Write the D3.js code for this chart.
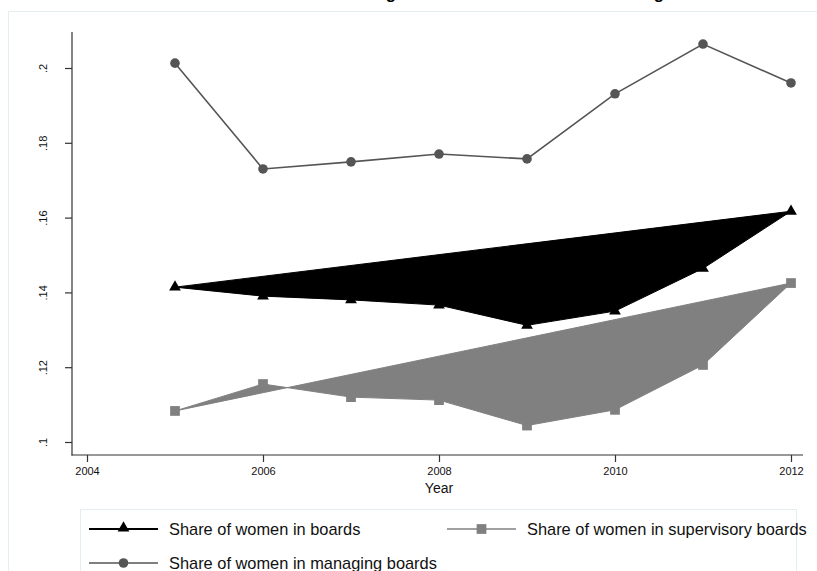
<!DOCTYPE html>
<html><head><meta charset="utf-8">
<script src="https://cdn.jsdelivr.net/npm/d3@7/dist/d3.min.js"></script>
<style>body{margin:0;background:#fff}svg{display:block;font-family:"Liberation Sans",Arial,sans-serif}</style>
</head><body><svg id="c" width="817" height="571"></svg>
<script>
const years = [2005, 2006, 2007, 2008, 2009, 2010, 2011, 2012];
const boards = [0.1414, 0.1390, 0.1380, 0.1366, 0.1312, 0.1350, 0.1464, 0.1617];
const supervisory = [0.1083, 0.1155, 0.1120, 0.1112, 0.1044, 0.1086, 0.1206, 0.1425];
const managing = [0.2013, 0.1730, 0.1749, 0.1770, 0.1757, 0.1931, 0.2064, 0.1960];
const xTicks = [2004, 2006, 2008, 2010, 2012];
const yTicks = [0.1, 0.12, 0.14, 0.16, 0.18, 0.2];
const yTickLabels = [".1", ".12", ".14", ".16", ".18", ".2"];
const seriesNames = ["Share of women in boards", "Share of women in supervisory boards", "Share of women in managing boards"];
const titleText = "Share of women in management and board seats in the largest firms";

const svg = d3.select("#c");
const x = d3.scaleLinear().domain([2004, 2012]).range([87, 791]);
const y = d3.scaleLinear().domain([0.1, 0.2]).range([442, 68]);

// faint outer frame
svg.append("rect").attr("x", 8.5).attr("y", 11.5).attr("width", 830).attr("height", 600)
  .attr("fill", "none").attr("stroke", "#e4eef0").attr("stroke-width", 1);

// title (mostly cut off at the top, as in the reference)
const title = svg.append("text").attr("font-weight", "bold").attr("font-size", 17)
  .attr("y", -0.8).attr("fill", "#000").text(titleText);
(function placeTitle(){
  const node = title.node();
  const i1 = titleText.indexOf("g"), i2 = titleText.lastIndexOf("g");
  const d = node.getStartPositionOfChar(i2).x - node.getStartPositionOfChar(i1).x;
  const fs = 17 * 268 / d;
  title.attr("font-size", fs);
  const p1 = node.getStartPositionOfChar(i1).x;
  const w = node.getExtentOfChar(i1).width;
  title.attr("x", 391 - p1 - w / 2);
})();

// axes
const axisColor = "#333";
svg.append("line").attr("x1", 72).attr("x2", 72).attr("y1", 32).attr("y2", 455.5)
  .attr("stroke", axisColor).attr("stroke-width", 1.2);
svg.append("line").attr("x1", 71.5).attr("x2", 803).attr("y1", 455).attr("y2", 455)
  .attr("stroke", axisColor).attr("stroke-width", 1.2);

const yAxis = d3.axisLeft(y).tickValues(yTicks).tickSize(7).tickSizeOuter(0)
  .tickFormat((d, i) => yTickLabels[i]);
const gy = svg.append("g").attr("transform", "translate(72,0)").call(yAxis);
gy.select(".domain").remove();
gy.selectAll(".tick line").attr("stroke", axisColor).attr("stroke-width", 1.2);
gy.selectAll(".tick text").attr("font-size", 11).attr("fill", "#111")
  .attr("font-family", "Liberation Sans, Arial, sans-serif")
  .attr("transform", "rotate(-90)").attr("x", 0).attr("y", -25).attr("dy", "0")
  .attr("text-anchor", "middle");

const xAxis = d3.axisBottom(x).tickValues(xTicks).tickSize(7).tickSizeOuter(0).tickFormat(d3.format("d"));
const gx = svg.append("g").attr("transform", "translate(0,455)").call(xAxis);
gx.select(".domain").remove();
gx.selectAll(".tick line").attr("stroke", axisColor).attr("stroke-width", 1.2);
gx.selectAll(".tick text").attr("font-size", 11).attr("fill", "#111")
  .attr("font-family", "Liberation Sans, Arial, sans-serif").attr("y", 12);

svg.append("text").attr("x", x(2008)).attr("y", 493).attr("text-anchor", "middle")
  .attr("font-size", 14).attr("fill", "#111").text("Year");

// polygons (closed lines filled)
function poly(vals) {
  return d3.line().x((d, i) => x(years[i])).y(d => y(d))(vals) + "Z";
}
svg.append("path").attr("d", poly(boards)).attr("fill", "#000").attr("stroke", "#000").attr("stroke-width", 1);
svg.append("path").attr("d", poly(supervisory)).attr("fill", "#808080").attr("stroke", "#808080").attr("stroke-width", 1);

const tri = d3.symbol().type(d3.symbolTriangle).size(60);
const sq = d3.symbol().type(d3.symbolSquare).size(95);

svg.append("g").selectAll("path").data(boards).join("path")
  .attr("d", tri).attr("transform", (d, i) => `translate(${x(years[i])},${y(d)})`).attr("fill", "#000");
svg.append("g").selectAll("path").data(supervisory).join("path")
  .attr("d", sq).attr("transform", (d, i) => `translate(${x(years[i])},${y(d)})`).attr("fill", "#808080");

const mline = d3.line().x((d, i) => x(years[i])).y(d => y(d));
svg.append("path").attr("d", mline(managing)).attr("fill", "none").attr("stroke", "#555").attr("stroke-width", 1.6);
svg.append("g").selectAll("circle").data(managing).join("circle")
  .attr("cx", (d, i) => x(years[i])).attr("cy", d => y(d)).attr("r", 4.8).attr("fill", "#555");

// legend
svg.append("rect").attr("x", 80.5).attr("y", 509.5).attr("width", 716).attr("height", 100)
  .attr("fill", "#fff").attr("stroke", "#e4eef0");
const legendItems = [
  {name: seriesNames[0], x0: 89, y0: 529, color: "#000", sym: "tri"},
  {name: seriesNames[1], x0: 447, y0: 529, color: "#808080", sym: "sq"},
  {name: seriesNames[2], x0: 89, y0: 563, color: "#555", sym: "circ"}
];
legendItems.forEach(it => {
  const g = svg.append("g");
  g.append("line").attr("x1", it.x0).attr("x2", it.x0 + 69).attr("y1", it.y0).attr("y2", it.y0)
    .attr("stroke", it.color).attr("stroke-width", it.sym === "tri" ? 2 : 1.6);
  const cx = it.x0 + 34.5;
  if (it.sym === "tri") g.append("path").attr("d", tri).attr("transform", `translate(${cx},${it.y0 - 1})`).attr("fill", it.color);
  if (it.sym === "sq") g.append("path").attr("d", sq).attr("transform", `translate(${cx},${it.y0})`).attr("fill", it.color);
  if (it.sym === "circ") g.append("circle").attr("cx", cx).attr("cy", it.y0).attr("r", 4.8).attr("fill", it.color);
  g.append("text").attr("x", it.x0 + 80).attr("y", it.y0 + 5.5).attr("font-size", 16.4).attr("fill", "#111").text(it.name);
});
</script></body></html>
